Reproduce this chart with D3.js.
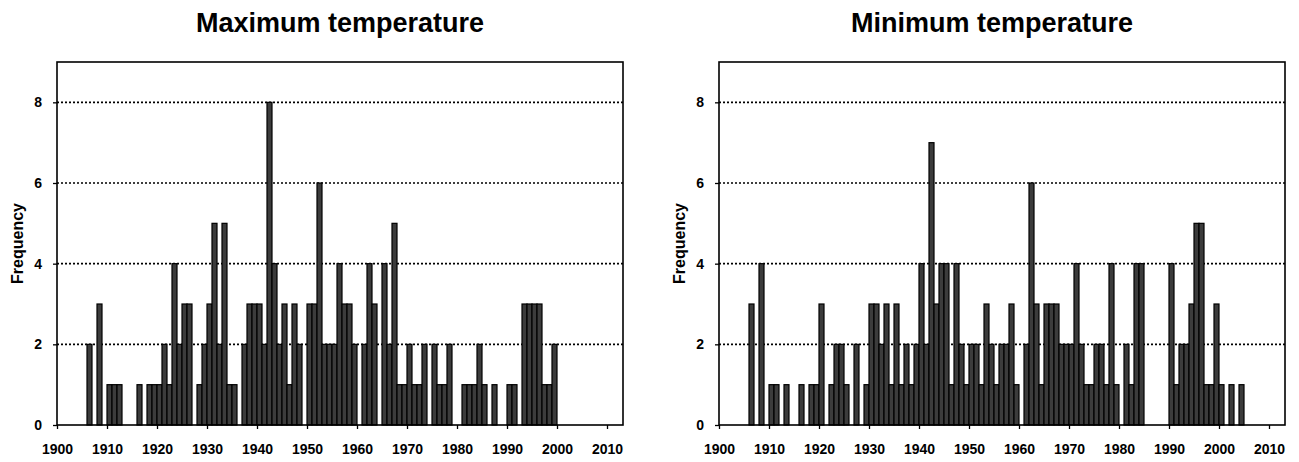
<!DOCTYPE html>
<html>
<head>
<meta charset="utf-8">
<script src="https://cdn.jsdelivr.net/npm/d3@7"></script>
<style>
  html, body { margin: 0; padding: 0; background: #fff; }
  svg { display: block; }
  text { font-family: "Liberation Sans", Arial, sans-serif; font-weight: bold; fill: #000; }
</style>
</head>
<body>
<svg id="chart" width="1299" height="462"></svg>
<script>
// Years in which a record was set, and how many records that year
const maxYears = [1906, 1908, 1910, 1911, 1912, 1916, 1918, 1919, 1920, 1921, 1922, 1923, 1924, 1925, 1926,
  1928, 1929, 1930, 1931, 1932, 1933, 1934, 1935, 1937, 1938, 1939, 1940, 1941, 1942, 1943, 1944, 1945,
  1946, 1947, 1948, 1950, 1951, 1952, 1953, 1954, 1955, 1956, 1957, 1958, 1959, 1961, 1962, 1963, 1965,
  1966, 1967, 1968, 1969, 1970, 1971, 1972, 1973, 1975, 1976, 1977, 1978, 1981, 1982, 1983, 1984, 1985,
  1987, 1990, 1991, 1993, 1994, 1995, 1996, 1997, 1998, 1999];
const maxCounts = [2, 3, 1, 1, 1, 1, 1, 1, 1, 2, 1, 4, 2, 3, 3,
  1, 2, 3, 5, 2, 5, 1, 1, 2, 3, 3, 3, 2, 8, 4, 2, 3,
  1, 3, 2, 3, 3, 6, 2, 2, 2, 4, 3, 3, 2, 2, 4, 3, 4,
  2, 5, 1, 1, 2, 1, 1, 2, 2, 1, 1, 2, 1, 1, 1, 2, 1,
  1, 1, 1, 3, 3, 3, 3, 1, 1, 2];

const minYears = [1906, 1908, 1910, 1911, 1913, 1916, 1918, 1919, 1920, 1922, 1923, 1924, 1925, 1927,
  1929, 1930, 1931, 1932, 1933, 1934, 1935, 1936, 1937, 1938, 1939, 1940, 1941, 1942, 1943, 1944, 1945,
  1946, 1947, 1948, 1949, 1950, 1951, 1952, 1953, 1954, 1955, 1956, 1957, 1958, 1959, 1961, 1962, 1963,
  1964, 1965, 1966, 1967, 1968, 1969, 1970, 1971, 1972, 1973, 1974, 1975, 1976, 1977, 1978, 1979, 1981,
  1982, 1983, 1984, 1990, 1991, 1992, 1993, 1994, 1995, 1996, 1997, 1998, 1999, 2000, 2002, 2004];
const minCounts = [3, 4, 1, 1, 1, 1, 1, 1, 3, 1, 2, 2, 1, 2,
  1, 3, 3, 2, 3, 1, 3, 1, 2, 1, 2, 4, 2, 7, 3, 4, 4,
  1, 4, 2, 1, 2, 2, 1, 3, 2, 1, 2, 2, 3, 1, 2, 6, 3,
  1, 3, 3, 3, 2, 2, 2, 4, 2, 1, 1, 2, 2, 1, 4, 1, 2,
  1, 4, 4, 4, 1, 2, 2, 3, 5, 5, 1, 1, 3, 1, 1, 1];

const xTicks = [1900, 1910, 1920, 1930, 1940, 1950, 1960, 1970, 1980, 1990, 2000, 2010];
const yTicks = [0, 2, 4, 6, 8];
const gridValues = [2, 4, 6, 8];

const svg = d3.select("#chart");

function panel(left, title, titleX, years, counts) {
  const width = 566, top = 62, bottom = 425;
  const x = d3.scaleLinear().domain([1900, 1900 + width / 5]).range([left, left + width]);
  const y = d3.scaleLinear().domain([0, 9]).range([bottom, top]);
  const g = svg.append("g");

  // dotted gridlines
  g.selectAll("line.grid").data(gridValues).join("line")
    .attr("class", "grid")
    .attr("x1", left).attr("x2", left + width)
    .attr("y1", d => y(d)).attr("y2", d => y(d))
    .attr("stroke", "#000").attr("stroke-width", 1.6)
    .attr("stroke-dasharray", "2,2");

  // bars, one per year
  const data = years.map((yr, i) => ({ yr, n: counts[i] }));
  g.selectAll("rect.bar").data(data).join("rect")
    .attr("class", "bar")
    .attr("x", d => x(d.yr))
    .attr("width", d => x(d.yr + 1) - x(d.yr))
    .attr("y", d => y(d.n))
    .attr("height", d => y(0) - y(d.n))
    .attr("fill", "#3c3c3c")
    .attr("stroke", "#000").attr("stroke-width", 1.2);

  // plot frame
  g.append("rect")
    .attr("x", left).attr("y", top)
    .attr("width", width).attr("height", bottom - top)
    .attr("fill", "none").attr("stroke", "#000").attr("stroke-width", 1.6);

  // x axis
  const xAxis = d3.axisBottom(x).tickValues(xTicks).tickFormat(d3.format("d"))
    .tickSize(4).tickPadding(15);
  const gx = g.append("g").attr("transform", `translate(0,${bottom})`).call(xAxis);
  gx.select(".domain").remove();
  gx.selectAll(".tick line").attr("stroke", "#000").attr("stroke-width", 1.3);
  gx.selectAll(".tick text").style("font-size", "14px");

  // y axis
  const yAxis = d3.axisLeft(y).tickValues(yTicks).tickSize(4).tickPadding(11);
  const gy = g.append("g").attr("transform", `translate(${left},0)`).call(yAxis);
  gy.select(".domain").remove();
  gy.selectAll(".tick line").attr("stroke", "#000").attr("stroke-width", 1.3);
  gy.selectAll(".tick text").style("font-size", "14px");

  // axis title
  g.append("text")
    .attr("transform", `translate(${left - 34},${(top + bottom) / 2}) rotate(-90)`)
    .attr("text-anchor", "middle")
    .style("font-size", "16px")
    .text("Frequency");

  // chart title
  g.append("text")
    .attr("x", titleX).attr("y", 32)
    .attr("text-anchor", "middle")
    .style("font-size", "27px")
    .text(title);
}

panel(57, "Maximum temperature", 340, maxYears, maxCounts);
panel(719, "Minimum temperature", 992, minYears, minCounts);
</script>
</body>
</html>
